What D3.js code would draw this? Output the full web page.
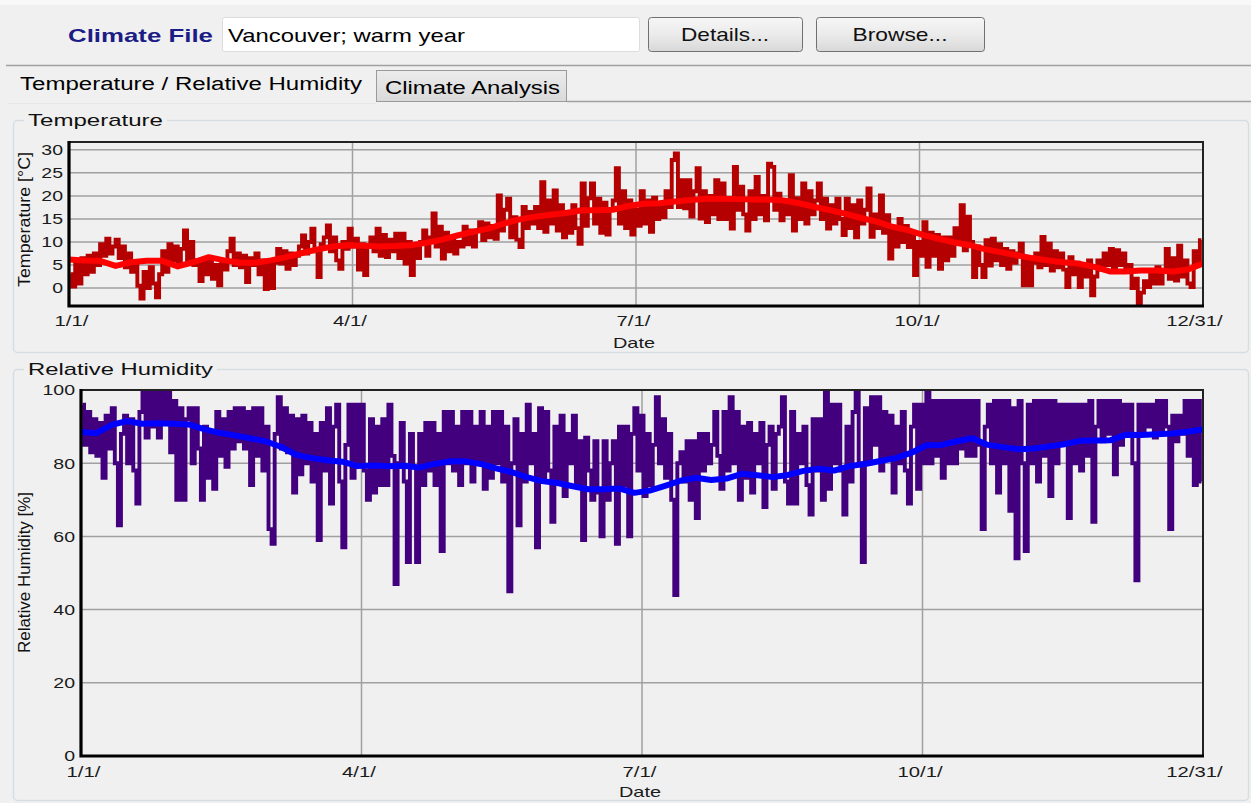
<!DOCTYPE html>
<html><head><meta charset="utf-8">
<script src="https://cdn.jsdelivr.net/npm/d3@7"></script>
<style>
body{margin:0;background:#f0f0f0;overflow:hidden}
svg{display:block;font-family:"Liberation Sans",Arial,sans-serif}
</style></head><body>
<svg id="c" width="1251" height="803"></svg>
<script>
// ---------- data ----------
const xTickHours = [0, 2190, 4380, 6570, 8760];
const xTickLabels = ["1/1/", "4/1/", "7/1/", "10/1/", "12/31/"];
const tempTicks = [0, 5, 10, 15, 20, 25, 30];
const rhTicks = [0, 20, 40, 60, 80, 100];

// temperature samples, one per day (°C)
const tempDaily = [
3,0.3,5.5,1,6.5,3,7,3.5,7.5,5,
9.5,7,10.7,7.5,9,10.5,6.5,9,4.5,7.5,
3.5,5,0.5,-2.3,3.5,0,4.5,1,-2,3,
8,3.5,9.5,6,9,5.5,8.5,12.5,6,10,
5,6,1.5,5.5,3,6,2,5,0.6,6,
4,8,10.7,5,7.5,4.5,7,1.3,6.5,5,
7.5,3,6,-0.2,5,0,5.5,8.5,5.3,8,
4.2,7.5,5,7,9,11.4,7.5,10,12.9,8,
2.4,9.5,11,13.6,8,11,6,4.2,10,8.5,
12.9,9,10.7,4,9.5,2.8,9,11,8,12.9,
7,11.5,6.7,10.5,8,11.8,6.5,11.8,5.3,10,
2.8,9.5,6.5,10,12.5,7,11,16.2,9,13.3,
6.4,12,8,10.4,7.5,10,9,13.3,9.5,12.5,
9,12.5,14.3,10.4,14,11,13.5,10.7,20.1,12.5,
17,19.4,11,15.4,10.5,8.9,17.6,13,16.5,14,
17.6,13,23,12.2,19,14,21.2,12.5,18,11,
16.5,12,18,13,9.6,22.7,13.5,19.5,22.7,14,
19.4,12,18.5,11.6,17,19,26,14,21,13,
19,11.6,17,13.5,21,14,19,12.2,19.6,15,
18,15.4,21,17.6,27.8,29.2,17.6,23.4,17.3,23.4,
15.5,21,26,15.1,21,14.3,20,16,23.4,15,
22.7,15,19.5,12.9,26.3,17,22,16,12.5,21,
15,24.1,16,20,14.7,27,26.3,17,20.5,14.7,
19,16,24.5,12.5,19.5,15,22.7,14,21,16,
19,22.7,15,19.4,12.9,18,14,19.4,15,11.5,
19.4,13,18,11,19,14,17,21.6,11.1,16,
13,20.1,12,15.8,6.4,13,9,15,10,13.5,
8.9,12,2.8,10,7,14.3,4.6,12,7,11.5,
4.2,11,6,11,7,13,10,18,8.2,15.5,
10,2.4,9,5,2.4,10.4,4.9,10.7,6,9.5,
5,8.5,4.2,8,5.5,7.5,9.6,0.6,6.5,0.6,
5.5,7.5,4.5,11.1,5,9.6,3.8,8,4.5,7.5,
4,0.2,6.7,3,5.5,0.2,5,2.5,6,-1.6,
2.5,6,4,7.5,5,8.5,3.5,8.2,5,7.5,
3.5,5,0,2,-3.4,-1,1.5,0.2,3,1,
4.5,1,4,8.5,2,6.5,1.6,9.2,2.5,6,
1,0.2,8,5,10.4
];

// smoothed temperature, every 5 days (°C)
const tempSmooth = [
6.2,6.0,5.9,4.8,5.6,5.9,5.9,4.7,5.6,6.7,
6.0,5.5,5.5,6.0,6.7,7.6,8.4,9.0,9.3,9.2,
9.0,9.1,9.3,9.8,10.5,11.4,12.2,12.9,14.0,14.9,
15.5,15.9,16.3,16.9,16.9,17.0,17.8,18.3,18.4,18.8,
19.1,19.4,19.4,19.3,19.2,19.2,19.0,18.4,17.6,16.9,
16.1,15.2,14.4,13.3,12.6,11.5,10.7,9.9,9.3,8.4,
7.8,7.1,6.5,6.0,5.6,5.3,4.6,3.6,3.6,3.8,
3.8,3.6,4.0,5.3
];

// relative humidity samples, one per day (%)
const rhDaily = [
96,85,94,83,92,82,91,76,93,84,
95,80,63,88,93,80,92,78,69,94,
100,87,100,90,100,87,100,91,100,83,
97,70,95,70,92,95,80,95,84,70,
90,76,88,73,94,82,92,79,94,84,
95,86,95,84,94,74,95,82,95,78,
90,62,58,88,98,84,95,83,93,72,
92,77,93,80,91,75,88,59,91,78,
95,69,90,96,75,57,85,96,76,96,
80,96,78,70,92,72,90,74,92,74,
96,82,47,80,91,75,53,88,79,53,
88,74,91,78,91,74,88,56,94,80,
94,78,90,74,94,80,94,75,90,80,
94,73,90,76,94,80,94,75,90,45,
80,92,63,88,75,96,80,88,57,95,
76,94,78,64,90,75,93,71,88,80,
93,74,86,59,87,78,70,86,72,60,
86,70,80,86,58,90,74,90,60,88,
95,78,93,71,88,74,85,98,80,92,
76,88,70,44,80,83,75,86,70,86,
65,88,78,88,80,85,94,82,73,94,
78,98,80,94,70,90,76,91,72,88,
80,91,68,85,90,73,88,90,98,75,
69,94,69,88,80,90,74,66,92,78,
92,70,100,73,96,80,96,78,66,90,
75,94,100,80,53,95,80,98,85,98,
78,94,82,93,72,90,80,94,78,69,
90,96,73,96,80,100,80,97,82,97,
76,97,80,97,80,97,84,97,82,97,
82,97,85,62,90,96,80,97,72,97,
80,97,67,95,54,97,80,56,96,80,
97,75,97,82,97,71,97,80,96,85,
96,65,96,80,96,78,96,82,97,64,
90,97,86,97,88,97,77,97,85,96,
88,96,80,48,96,88,96,90,96,87,
97,89,97,90,62,93,86,93,88,97,
82,97,74,97,75
];

// smoothed relative humidity, every 5 days (%)
const rhSmooth = [
88.5,88.2,90.5,91.5,90.8,90.9,90.8,90.6,89.3,88.3,
87.6,86.8,86.0,84.5,82.3,81.4,80.8,80.4,79.2,79.4,
79.2,79.3,78.8,79.8,80.5,80.5,79.8,78.6,77.6,76.2,
75.1,74.6,73.7,72.9,72.9,73.1,71.9,72.5,73.8,75.2,
76.0,75.4,75.8,77.1,76.7,76.2,76.8,77.9,78.5,78.0,
79.2,79.8,80.6,81.4,82.8,84.9,85.0,86.0,86.8,85.0,
84.4,83.8,84.0,84.6,85.2,86.1,86.2,86.3,87.8,87.7,
87.9,88.1,88.6,89.2
];

// ---------- drawing ----------
const svg = d3.select("#c");
const FONT = '"Liberation Sans",Arial,sans-serif';
const defs = svg.append("defs");

function fitText(sel, len) {
  sel.attr("textLength", len).attr("lengthAdjust", "spacingAndGlyphs");
}
function stretch(sel, k) {
  sel.each(function () {
    const w = this.getComputedTextLength();
    d3.select(this).attr("textLength", w * k).attr("lengthAdjust", "spacingAndGlyphs");
  });
}

// top strip
svg.append("rect").attr("x", 0).attr("y", 0).attr("width", 1251).attr("height", 5).attr("fill", "#f8f8f8");

// header
svg.append("text").attr("x", 68).attr("y", 42).attr("font-size", 19).attr("font-weight", "bold")
  .attr("fill", "#1c1c86").text("Climate File").call(fitText, 145);
svg.append("rect").attr("x", 222.5).attr("y", 17.5).attr("width", 417).attr("height", 34)
  .attr("rx", 2).attr("fill", "#ffffff").attr("stroke", "#dcdcdc");
svg.append("text").attr("x", 228).attr("y", 42).attr("font-size", 19).attr("fill", "#000")
  .text("Vancouver; warm year").call(fitText, 237);

const grad = defs.append("linearGradient").attr("id", "btn").attr("x1", 0).attr("y1", 0).attr("x2", 0).attr("y2", 1);
grad.append("stop").attr("offset", "0%").attr("stop-color", "#f6f6f6");
grad.append("stop").attr("offset", "50%").attr("stop-color", "#ebebeb");
grad.append("stop").attr("offset", "100%").attr("stop-color", "#d8d8d8");
const buttons = [
  { label: "Details...", x: 648, w: 154, tw: 88 },
  { label: "Browse...", x: 816, w: 168, tw: 95 }
];
buttons.forEach(b => {
  svg.append("rect").attr("x", b.x + 0.5).attr("y", 17.5).attr("width", b.w).attr("height", 34)
    .attr("rx", 3).attr("fill", "url(#btn)").attr("stroke", "#707070");
  svg.append("text").attr("x", b.x + b.w / 2).attr("y", 41).attr("text-anchor", "middle")
    .attr("font-size", 19).attr("fill", "#111").text(b.label).call(fitText, b.tw);
});

// tabs
svg.append("line").attr("x1", 6).attr("x2", 1251).attr("y1", 65.5).attr("y2", 65.5).attr("stroke", "#a0a0a0").attr("stroke-width", 1.5);
const tgrad = defs.append("linearGradient").attr("id", "tab").attr("x1", 0).attr("y1", 0).attr("x2", 0).attr("y2", 1);
tgrad.append("stop").attr("offset", "0%").attr("stop-color", "#ececec");
tgrad.append("stop").attr("offset", "100%").attr("stop-color", "#d9d9d9");
svg.append("rect").attr("x", 376.5).attr("y", 70.5).attr("width", 190).attr("height", 31)
  .attr("fill", "url(#tab)").attr("stroke", "#9a9a9a");
svg.append("line").attr("x1", 567).attr("x2", 1251).attr("y1", 101.5).attr("y2", 101.5).attr("stroke", "#a0a0a0").attr("stroke-width", 1.5);
svg.append("line").attr("x1", 8).attr("x2", 376).attr("y1", 103.5).attr("y2", 103.5).attr("stroke", "#e6e6e6");
svg.append("text").attr("x", 20).attr("y", 90).attr("font-size", 18).attr("fill", "#000")
  .text("Temperature / Relative Humidity").call(fitText, 342);
svg.append("text").attr("x", 385).attr("y", 94).attr("font-size", 18).attr("fill", "#000")
  .text("Climate Analysis").call(fitText, 175);

// group boxes
function groupBox(y, h, title, tw) {
  svg.append("rect").attr("x", 13.5).attr("y", y + 0.5).attr("width", 1235).attr("height", h)
    .attr("rx", 4).attr("fill", "none").attr("stroke", "#d5dde3").attr("stroke-width", 1.5);
  svg.append("rect").attr("x", 24).attr("y", y - 8).attr("width", tw + 8).attr("height", 16).attr("fill", "#f0f0f0");
  svg.append("text").attr("x", 28).attr("y", y + 6).attr("font-size", 17).attr("fill", "#111")
    .text(title).call(fitText, tw);
}
groupBox(120, 232, "Temperature", 135);
groupBox(369, 431, "Relative Humidity", 185);

// chart builder
function chart(cfg) {
  const x = d3.scaleLinear().domain([0, 8760]).range([cfg.left, cfg.right]);
  const y = d3.scaleLinear().domain(cfg.yDomain).range([cfg.bottom, cfg.top]);
  const g = svg.append("g");
  const clipId = "clip" + cfg.id;
  defs.append("clipPath").attr("id", clipId).append("rect")
    .attr("x", cfg.left).attr("y", cfg.top).attr("width", cfg.right - cfg.left).attr("height", cfg.bottom - cfg.top);

  // grid
  g.append("g").selectAll("line").data(cfg.yTicks).join("line")
    .attr("x1", cfg.left).attr("x2", cfg.right)
    .attr("y1", d => y(d)).attr("y2", d => y(d))
    .attr("stroke", "#a0a0a0").attr("stroke-width", 1.5);
  g.append("g").selectAll("line").data(xTickHours.slice(1, -1)).join("line")
    .attr("x1", d => x(d)).attr("x2", d => x(d))
    .attr("y1", cfg.top).attr("y2", cfg.bottom)
    .attr("stroke", "#a0a0a0").attr("stroke-width", 1.5);

  // series
  const traceLine = d3.line().curve(d3.curveStep).x((d, i) => x(i * 24 + 12)).y(d => y(d));
  const smoothLine = d3.line().x((d, i) => x(Math.min(i * 5, 365) * 24)).y(d => y(d));
  const plot = g.append("g").attr("clip-path", `url(#${clipId})`);
  plot.append("path").datum(cfg.trace).attr("d", traceLine)
    .attr("fill", "none").attr("stroke", cfg.traceColor).attr("stroke-width", 3.9)
    .attr("stroke-linejoin", "miter");
  plot.append("path").datum(cfg.smooth).attr("d", smoothLine)
    .attr("fill", "none").attr("stroke", cfg.smoothColor).attr("stroke-width", 6)
    .attr("stroke-linejoin", "round").attr("stroke-linecap", "round");

  // frame
  g.append("rect").attr("x", cfg.left).attr("y", cfg.top).attr("width", cfg.right - cfg.left).attr("height", cfg.bottom - cfg.top)
    .attr("fill", "none").attr("stroke", "#222").attr("stroke-width", 2);
  g.append("path").attr("d", `M${cfg.left},${cfg.top - 1}V${cfg.bottom}H${cfg.right + 1}`)
    .attr("fill", "none").attr("stroke", "#000").attr("stroke-width", 3.2);

  // axes
  const ya = g.append("g").attr("transform", `translate(${cfg.left},0)`)
    .call(d3.axisLeft(y).tickValues(cfg.yTicks).tickSize(0).tickPadding(6));
  ya.select(".domain").remove();
  ya.selectAll("text").attr("font-size", 15).attr("font-family", FONT).attr("fill", "#1a1a1a").call(stretch, 1.3);

  const xa = g.append("g").attr("transform", `translate(0,${cfg.bottom})`)
    .call(d3.axisBottom(x).tickValues(xTickHours).tickFormat((d, i) => xTickLabels[i]).tickSize(0));
  xa.select(".domain").remove();
  const shifts = [2, -3, -3, -3, -9];
  xa.selectAll("text").attr("font-size", 15).attr("font-family", FONT).attr("fill", "#1a1a1a")
    .attr("y", cfg.xLabelOffset).attr("dy", 0).attr("dx", (d, i) => shifts[i]).call(stretch, 1.35);

  // titles
  g.append("text").attr("x", (cfg.left + cfg.right) / 2 - 2).attr("y", cfg.bottom + cfg.xTitleOffset)
    .attr("text-anchor", "middle").attr("font-size", 15).attr("fill", "#1a1a1a").text("Date").call(fitText, 42);
  g.append("text").attr("transform", `translate(30,${cfg.yTitleCenter}) rotate(-90)`)
    .attr("text-anchor", "middle").attr("font-size", 16).attr("fill", "#111")
    .text(cfg.yTitle).call(fitText, cfg.yTitleLen);
}

chart({
  id: "t", left: 69, right: 1203, top: 142, bottom: 306,
  yDomain: [-3.9, 31.7], yTicks: tempTicks,
  trace: tempDaily, smooth: tempSmooth,
  traceColor: "#b40000", smoothColor: "#ff0000",
  xLabelOffset: 20, xTitleOffset: 42,
  yTitle: "Temperature [°C]", yTitleLen: 135, yTitleCenter: 219.5
});
chart({
  id: "h", left: 81, right: 1203, top: 390, bottom: 756,
  yDomain: [0, 100], yTicks: rhTicks,
  trace: rhDaily, smooth: rhSmooth,
  traceColor: "#42007f", smoothColor: "#0000ff",
  xLabelOffset: 21, xTitleOffset: 41,
  yTitle: "Relative Humidity [%]", yTitleLen: 161, yTitleCenter: 572.5
});
</script>
</body></html>
